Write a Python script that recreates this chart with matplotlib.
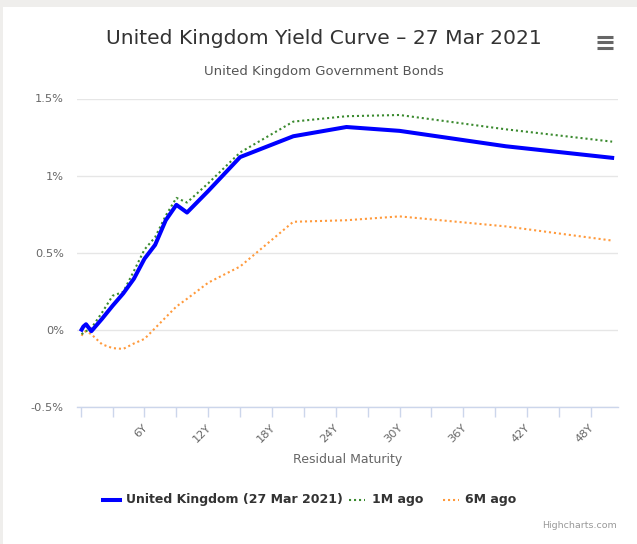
import matplotlib
matplotlib.use("Agg")
import matplotlib.pyplot as plt
from matplotlib.patches import Rectangle
from matplotlib.lines import Line2D

plt.rcParams['font.family'] = ['DejaVu Sans']

maturities = [0.083, 0.25, 0.5, 1, 2, 3, 4, 5, 6, 7, 8, 9, 10, 12, 15, 20, 25, 30, 40, 50]
uk_now = [0.00, 0.02, 0.035, -0.01, 0.07, 0.155, 0.235, 0.33, 0.46, 0.55, 0.71, 0.81, 0.76,
          0.90, 1.12, 1.255, 1.315, 1.29, 1.19, 1.115]
uk_1m = [-0.03, -0.02, -0.01, 0.01, 0.11, 0.22, 0.245, 0.38, 0.52, 0.60, 0.74, 0.855, 0.825,
         0.95, 1.15, 1.35, 1.385, 1.393, 1.30, 1.22]
uk_6m = [-0.04, -0.02, -0.01, -0.03, -0.095, -0.12, -0.125, -0.09, -0.06, 0.01, 0.08, 0.15, 0.20,
         0.305, 0.41, 0.70, 0.71, 0.735, 0.67, 0.578]

y_ticks = [-0.5, 0, 0.5, 1, 1.5]
y_labels = ["-0.5%", "0%", "0.5%", "1%", "1.5%"]
x_ticks = list(range(0, 49, 3))
x_label_vals = [6, 12, 18, 24, 30, 36, 42, 48]
x_labels = ["6Y", "12Y", "18Y", "24Y", "30Y", "36Y", "42Y", "48Y"]

W, H = 637, 544
fig = plt.figure(figsize=(W / 100, H / 100), dpi=100)
fig.patch.set_facecolor('#efeeec')
fig.patches.append(Rectangle((3 / W, 0), 1, 1 - 7 / H, transform=fig.transFigure,
                             facecolor='white', edgecolor='none', zorder=-10))

left, right = 77 / W, 618 / W
top, bottom = 1 - 98.5 / H, 1 - 406.7 / H
ax = fig.add_axes([left, bottom, right - left, top - bottom])
ax.set_zorder(5)
ax.set_facecolor('none')

ax.plot(maturities, uk_now, color='#0000ff', lw=2.9, solid_joinstyle='round', zorder=5,
        label='United Kingdom (27 Mar 2021)')
ax.plot(maturities, uk_1m, color='#3b8a2f', lw=1.5, linestyle=(0, (1, 1.4)), zorder=4,
        label='1M ago')
ax.plot(maturities, uk_6m, color='#ff9a3c', lw=1.5, linestyle=(0, (1, 1.4)), zorder=3,
        label='6M ago')

ax.set_xlim(-0.35, 50.55)
ax.set_ylim(-0.5, 1.5)

for s in ['top', 'right', 'left']:
    ax.spines[s].set_visible(False)
ax.spines['bottom'].set_color('#ccd6eb')
ax.spines['bottom'].set_linewidth(1)

ax.set_yticks(y_ticks)
ax.set_yticklabels(y_labels)
ax.tick_params(axis='y', length=0, pad=9.5, labelsize=8.2, labelcolor='#666666')
ax.yaxis.grid(True, color='#e6e6e6', lw=1)
ax.set_axisbelow(True)

ax.set_xticks(x_ticks)
ax.set_xticklabels([""] * len(x_ticks))
ax.tick_params(axis='x', length=7.5, width=1, color='#ccd6eb', direction='out')
for v, lab in zip(x_label_vals, x_labels):
    ax.annotate(lab, xy=(v, 0), xycoords=('data', 'axes fraction'),
                xytext=(-1.5, -11), textcoords='offset points',
                rotation=45, ha='right', va='top', rotation_mode='anchor',
                fontsize=8.2, color='#666666')

fig.text(348 / W, 1 - 460 / H, "Residual Maturity", ha='center', va='center',
         fontsize=9, color='#666666')

fig.text(324 / W, 1 - 38 / H, "United Kingdom Yield Curve – 27 Mar 2021", ha='center',
         va='center', fontsize=14.6, color='#333333')
fig.text(324 / W, 1 - 72 / H, "United Kingdom Government Bonds", ha='center',
         va='center', fontsize=9.5, color='#555555')

# menu icon
for yy in [36.5, 42, 47.5]:
    fig.add_artist(Line2D([597 / W, 613 / W], [1 - yy / H, 1 - yy / H],
                          transform=fig.transFigure, color='#666666', lw=2.2,
                          solid_capstyle='butt'))

# legend
ly = 1 - 500 / H
fig.add_artist(Line2D([103 / W, 120 / W], [ly, ly], transform=fig.transFigure,
                      color='#0000ff', lw=2.9))
fig.text(126 / W, ly, "United Kingdom (27 Mar 2021)", ha='left', va='center',
         fontsize=9, fontweight='bold', color='#333333')
fig.add_artist(Line2D([349 / W, 365 / W], [ly, ly], transform=fig.transFigure,
                      color='#3b8a2f', lw=1.5, linestyle=(0, (1, 1.4))))
fig.text(372 / W, ly, "1M ago", ha='left', va='center',
         fontsize=9, fontweight='bold', color='#333333')
fig.add_artist(Line2D([443 / W, 459 / W], [ly, ly], transform=fig.transFigure,
                      color='#ff9a3c', lw=1.5, linestyle=(0, (1, 1.4))))
fig.text(465 / W, ly, "6M ago", ha='left', va='center',
         fontsize=9, fontweight='bold', color='#333333')

fig.text(617 / W, 1 - 526 / H, "Highcharts.com", ha='right', va='center',
         fontsize=6.8, color='#999999')

fig.savefig("out.png", dpi=100)
